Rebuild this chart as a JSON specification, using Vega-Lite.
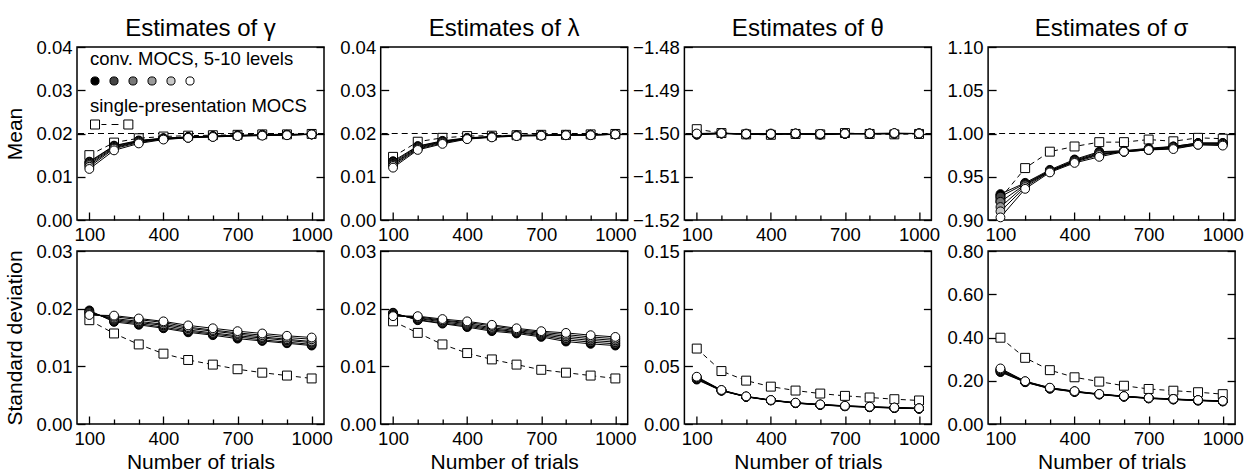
{
"$schema": "https://vega.github.io/schema/vega-lite/v6.json",
"padding": {"left": 4, "top": 16, "right": 5, "bottom": 2},
"datasets": {"d": [
{"p":"g","s":"m","x":100,"c5":0.0135,"c6":0.0133,"c7":0.0130,"c8":0.0127,"c9":0.0123,"c10":0.0118,"sp":0.0150},
{"p":"g","s":"m","x":200,"c5":0.0172,"c6":0.0171,"c7":0.0169,"c8":0.0167,"c9":0.0165,"c10":0.0161,"sp":0.0179},
{"p":"g","s":"m","x":300,"c5":0.0184,"c6":0.0183,"c7":0.0182,"c8":0.0181,"c9":0.0179,"c10":0.0177,"sp":0.0189},
{"p":"g","s":"m","x":400,"c5":0.0189,"c6":0.0189,"c7":0.0188,"c8":0.0188,"c9":0.0187,"c10":0.0186,"sp":0.0193},
{"p":"g","s":"m","x":500,"c5":0.0192,"c6":0.0192,"c7":0.0191,"c8":0.0191,"c9":0.0190,"c10":0.0190,"sp":0.0195},
{"p":"g","s":"m","x":600,"c5":0.0194,"c6":0.0194,"c7":0.0193,"c8":0.0193,"c9":0.0193,"c10":0.0192,"sp":0.0196},
{"p":"g","s":"m","x":700,"c5":0.0196,"c6":0.0195,"c7":0.0195,"c8":0.0195,"c9":0.0194,"c10":0.0194,"sp":0.0197},
{"p":"g","s":"m","x":800,"c5":0.0197,"c6":0.0197,"c7":0.0196,"c8":0.0196,"c9":0.0196,"c10":0.0195,"sp":0.0198},
{"p":"g","s":"m","x":900,"c5":0.0197,"c6":0.0197,"c7":0.0197,"c8":0.0197,"c9":0.0197,"c10":0.0196,"sp":0.0198},
{"p":"g","s":"m","x":1000,"c5":0.0198,"c6":0.0198,"c7":0.0198,"c8":0.0198,"c9":0.0198,"c10":0.0198,"sp":0.0199},
{"p":"l","s":"m","x":100,"c5":0.0136,"c6":0.0133,"c7":0.0130,"c8":0.0128,"c9":0.0125,"c10":0.0121,"sp":0.0146},
{"p":"l","s":"m","x":200,"c5":0.0171,"c6":0.0170,"c7":0.0168,"c8":0.0166,"c9":0.0164,"c10":0.0162,"sp":0.0181},
{"p":"l","s":"m","x":300,"c5":0.0183,"c6":0.0182,"c7":0.0181,"c8":0.0180,"c9":0.0178,"c10":0.0176,"sp":0.0190},
{"p":"l","s":"m","x":400,"c5":0.0190,"c6":0.0189,"c7":0.0189,"c8":0.0188,"c9":0.0188,"c10":0.0187,"sp":0.0194},
{"p":"l","s":"m","x":500,"c5":0.0193,"c6":0.0193,"c7":0.0192,"c8":0.0192,"c9":0.0192,"c10":0.0191,"sp":0.0195},
{"p":"l","s":"m","x":600,"c5":0.0196,"c6":0.0195,"c7":0.0195,"c8":0.0195,"c9":0.0195,"c10":0.0194,"sp":0.0196},
{"p":"l","s":"m","x":700,"c5":0.0196,"c6":0.0196,"c7":0.0196,"c8":0.0196,"c9":0.0195,"c10":0.0195,"sp":0.0197},
{"p":"l","s":"m","x":800,"c5":0.0197,"c6":0.0197,"c7":0.0197,"c8":0.0196,"c9":0.0196,"c10":0.0196,"sp":0.0197},
{"p":"l","s":"m","x":900,"c5":0.0197,"c6":0.0197,"c7":0.0197,"c8":0.0197,"c9":0.0197,"c10":0.0196,"sp":0.0198},
{"p":"l","s":"m","x":1000,"c5":0.0198,"c6":0.0198,"c7":0.0198,"c8":0.0198,"c9":0.0198,"c10":0.0198,"sp":0.0199},
{"p":"t","s":"m","x":100,"c5":-1.5003,"c6":-1.5002,"c7":-1.5001,"c8":-1.5002,"c9":-1.5001,"c10":-1.5000,"sp":-1.4990},
{"p":"t","s":"m","x":200,"c5":-1.5000,"c6":-1.5000,"c7":-1.4999,"c8":-1.5000,"c9":-1.5000,"c10":-1.4999,"sp":-1.4999},
{"p":"t","s":"m","x":300,"c5":-1.5002,"c6":-1.5001,"c7":-1.5002,"c8":-1.5001,"c9":-1.5000,"c10":-1.5001,"sp":-1.5002},
{"p":"t","s":"m","x":400,"c5":-1.5002,"c6":-1.5001,"c7":-1.5001,"c8":-1.5002,"c9":-1.5000,"c10":-1.5001,"sp":-1.5003},
{"p":"t","s":"m","x":500,"c5":-1.5001,"c6":-1.5001,"c7":-1.5000,"c8":-1.5001,"c9":-1.5000,"c10":-1.5000,"sp":-1.5001},
{"p":"t","s":"m","x":600,"c5":-1.5003,"c6":-1.5002,"c7":-1.5001,"c8":-1.5002,"c9":-1.5001,"c10":-1.5001,"sp":-1.5002},
{"p":"t","s":"m","x":700,"c5":-1.5001,"c6":-1.5000,"c7":-1.5000,"c8":-1.5001,"c9":-1.5000,"c10":-1.5000,"sp":-1.4999},
{"p":"t","s":"m","x":800,"c5":-1.5001,"c6":-1.5000,"c7":-1.5001,"c8":-1.5000,"c9":-1.5000,"c10":-1.5000,"sp":-1.5001},
{"p":"t","s":"m","x":900,"c5":-1.5000,"c6":-1.5000,"c7":-1.5001,"c8":-1.5000,"c9":-1.5000,"c10":-1.4999,"sp":-1.5002},
{"p":"t","s":"m","x":1000,"c5":-1.5000,"c6":-1.5000,"c7":-1.5000,"c8":-1.5000,"c9":-1.5000,"c10":-1.5000,"sp":-1.5001},
{"p":"s","s":"m","x":100,"c5":0.930,"c6":0.927,"c7":0.921,"c8":0.915,"c9":0.910,"c10":0.903,"sp":0.925},
{"p":"s","s":"m","x":200,"c5":0.943,"c6":0.942,"c7":0.941,"c8":0.940,"c9":0.938,"c10":0.936,"sp":0.960},
{"p":"s","s":"m","x":300,"c5":0.958,"c6":0.957,"c7":0.957,"c8":0.956,"c9":0.956,"c10":0.955,"sp":0.979},
{"p":"s","s":"m","x":400,"c5":0.970,"c6":0.969,"c7":0.968,"c8":0.968,"c9":0.967,"c10":0.966,"sp":0.985},
{"p":"s","s":"m","x":500,"c5":0.979,"c6":0.978,"c7":0.977,"c8":0.976,"c9":0.975,"c10":0.973,"sp":0.990},
{"p":"s","s":"m","x":600,"c5":0.980,"c6":0.980,"c7":0.979,"c8":0.979,"c9":0.979,"c10":0.979,"sp":0.990},
{"p":"s","s":"m","x":700,"c5":0.983,"c6":0.982,"c7":0.982,"c8":0.981,"c9":0.981,"c10":0.981,"sp":0.993},
{"p":"s","s":"m","x":800,"c5":0.985,"c6":0.985,"c7":0.984,"c8":0.984,"c9":0.983,"c10":0.982,"sp":0.991},
{"p":"s","s":"m","x":900,"c5":0.989,"c6":0.989,"c7":0.988,"c8":0.988,"c9":0.987,"c10":0.987,"sp":0.995},
{"p":"s","s":"m","x":1000,"c5":0.989,"c6":0.989,"c7":0.988,"c8":0.988,"c9":0.987,"c10":0.986,"sp":0.994},
{"p":"g","s":"sd","x":100,"c5":0.0197,"c6":0.0195,"c7":0.0194,"c8":0.0192,"c9":0.0190,"c10":0.0189,"sp":0.0180},
{"p":"g","s":"sd","x":200,"c5":0.0177,"c6":0.0179,"c7":0.0181,"c8":0.0183,"c9":0.0186,"c10":0.0188,"sp":0.0157},
{"p":"g","s":"sd","x":300,"c5":0.0172,"c6":0.0174,"c7":0.0176,"c8":0.0178,"c9":0.0181,"c10":0.0183,"sp":0.0138},
{"p":"g","s":"sd","x":400,"c5":0.0166,"c6":0.0168,"c7":0.0171,"c8":0.0173,"c9":0.0176,"c10":0.0178,"sp":0.0122},
{"p":"g","s":"sd","x":500,"c5":0.0159,"c6":0.0161,"c7":0.0163,"c8":0.0166,"c9":0.0168,"c10":0.0171,"sp":0.0111},
{"p":"g","s":"sd","x":600,"c5":0.0154,"c6":0.0156,"c7":0.0158,"c8":0.0161,"c9":0.0163,"c10":0.0166,"sp":0.0103},
{"p":"g","s":"sd","x":700,"c5":0.0148,"c6":0.0151,"c7":0.0153,"c8":0.0156,"c9":0.0158,"c10":0.0161,"sp":0.0095},
{"p":"g","s":"sd","x":800,"c5":0.0144,"c6":0.0146,"c7":0.0149,"c8":0.0151,"c9":0.0154,"c10":0.0157,"sp":0.0089},
{"p":"g","s":"sd","x":900,"c5":0.0140,"c6":0.0142,"c7":0.0145,"c8":0.0147,"c9":0.0150,"c10":0.0153,"sp":0.0084},
{"p":"g","s":"sd","x":1000,"c5":0.0136,"c6":0.0138,"c7":0.0141,"c8":0.0143,"c9":0.0147,"c10":0.0150,"sp":0.0079},
{"p":"l","s":"sd","x":100,"c5":0.0193,"c6":0.0192,"c7":0.0190,"c8":0.0189,"c9":0.0188,"c10":0.0187,"sp":0.0178},
{"p":"l","s":"sd","x":200,"c5":0.0180,"c6":0.0181,"c7":0.0183,"c8":0.0184,"c9":0.0186,"c10":0.0187,"sp":0.0158},
{"p":"l","s":"sd","x":300,"c5":0.0174,"c6":0.0175,"c7":0.0177,"c8":0.0179,"c9":0.0180,"c10":0.0182,"sp":0.0138},
{"p":"l","s":"sd","x":400,"c5":0.0168,"c6":0.0170,"c7":0.0172,"c8":0.0174,"c9":0.0176,"c10":0.0178,"sp":0.0123},
{"p":"l","s":"sd","x":500,"c5":0.0161,"c6":0.0163,"c7":0.0165,"c8":0.0167,"c9":0.0170,"c10":0.0172,"sp":0.0112},
{"p":"l","s":"sd","x":600,"c5":0.0157,"c6":0.0159,"c7":0.0160,"c8":0.0162,"c9":0.0164,"c10":0.0166,"sp":0.0103},
{"p":"l","s":"sd","x":700,"c5":0.0151,"c6":0.0153,"c7":0.0155,"c8":0.0157,"c9":0.0159,"c10":0.0161,"sp":0.0094},
{"p":"l","s":"sd","x":800,"c5":0.0143,"c6":0.0146,"c7":0.0149,"c8":0.0152,"c9":0.0155,"c10":0.0158,"sp":0.0089},
{"p":"l","s":"sd","x":900,"c5":0.0139,"c6":0.0142,"c7":0.0145,"c8":0.0148,"c9":0.0151,"c10":0.0154,"sp":0.0084},
{"p":"l","s":"sd","x":1000,"c5":0.0136,"c6":0.0139,"c7":0.0142,"c8":0.0145,"c9":0.0148,"c10":0.0151,"sp":0.0079},
{"p":"t","s":"sd","x":100,"c5":0.0385,"c6":0.0390,"c7":0.0395,"c8":0.0400,"c9":0.0405,"c10":0.0410,"sp":0.0654},
{"p":"t","s":"sd","x":200,"c5":0.0288,"c6":0.0290,"c7":0.0290,"c8":0.0292,"c9":0.0293,"c10":0.0295,"sp":0.0459},
{"p":"t","s":"sd","x":300,"c5":0.0235,"c6":0.0236,"c7":0.0237,"c8":0.0237,"c9":0.0238,"c10":0.0240,"sp":0.0376},
{"p":"t","s":"sd","x":400,"c5":0.0204,"c6":0.0205,"c7":0.0206,"c8":0.0206,"c9":0.0207,"c10":0.0208,"sp":0.0324},
{"p":"t","s":"sd","x":500,"c5":0.0180,"c6":0.0181,"c7":0.0182,"c8":0.0183,"c9":0.0184,"c10":0.0185,"sp":0.0290},
{"p":"t","s":"sd","x":600,"c5":0.0165,"c6":0.0166,"c7":0.0167,"c8":0.0168,"c9":0.0169,"c10":0.0170,"sp":0.0264},
{"p":"t","s":"sd","x":700,"c5":0.0153,"c6":0.0154,"c7":0.0155,"c8":0.0156,"c9":0.0157,"c10":0.0158,"sp":0.0244},
{"p":"t","s":"sd","x":800,"c5":0.0145,"c6":0.0146,"c7":0.0147,"c8":0.0148,"c9":0.0149,"c10":0.0150,"sp":0.0230},
{"p":"t","s":"sd","x":900,"c5":0.0138,"c6":0.0139,"c7":0.0140,"c8":0.0141,"c9":0.0142,"c10":0.0143,"sp":0.0215},
{"p":"t","s":"sd","x":1000,"c5":0.0132,"c6":0.0133,"c7":0.0134,"c8":0.0135,"c9":0.0136,"c10":0.0137,"sp":0.0204},
{"p":"s","s":"sd","x":100,"c5":0.240,"c6":0.243,"c7":0.247,"c8":0.250,"c9":0.253,"c10":0.257,"sp":0.399},
{"p":"s","s":"sd","x":200,"c5":0.193,"c6":0.194,"c7":0.195,"c8":0.196,"c9":0.197,"c10":0.198,"sp":0.306},
{"p":"s","s":"sd","x":300,"c5":0.163,"c6":0.164,"c7":0.165,"c8":0.166,"c9":0.167,"c10":0.168,"sp":0.249},
{"p":"s","s":"sd","x":400,"c5":0.148,"c6":0.149,"c7":0.150,"c8":0.150,"c9":0.151,"c10":0.152,"sp":0.216},
{"p":"s","s":"sd","x":500,"c5":0.136,"c6":0.137,"c7":0.137,"c8":0.138,"c9":0.138,"c10":0.139,"sp":0.196},
{"p":"s","s":"sd","x":600,"c5":0.126,"c6":0.127,"c7":0.127,"c8":0.128,"c9":0.128,"c10":0.129,"sp":0.177},
{"p":"s","s":"sd","x":700,"c5":0.118,"c6":0.119,"c7":0.119,"c8":0.120,"c9":0.120,"c10":0.121,"sp":0.162},
{"p":"s","s":"sd","x":800,"c5":0.113,"c6":0.114,"c7":0.114,"c8":0.115,"c9":0.115,"c10":0.116,"sp":0.154},
{"p":"s","s":"sd","x":900,"c5":0.108,"c6":0.109,"c7":0.109,"c8":0.110,"c9":0.110,"c10":0.111,"sp":0.147},
{"p":"s","s":"sd","x":1000,"c5":0.104,"c6":0.105,"c7":0.105,"c8":0.106,"c9":0.106,"c10":0.107,"sp":0.138}
]},
"data": {"name": "d"},
"columns": 4,
"spacing": {"row": 31, "column": 56.7},
"bounds": "flush",
"concat": [
{"width": 247, "height": 173, "title": "Estimates of γ", "resolve": {"axis": {"y": "independent"}, "scale": {"fill": "independent"}}, "layer": [
 {"layer": [
  {"transform": [{"filter": "datum.p=='g' && datum.s=='m' && datum.x==100"}], "mark": {"type": "rule", "strokeDash": [6,4], "strokeWidth": 1, "color": "black"}, "encoding": {"y": {"datum": 0.02, "type": "quantitative", "scale": {"domain": [0,0.04], "nice": false, "zero": false}, "axis": {"orient": "left", "values": [0,0.01,0.02,0.03,0.04], "format": ".2f", "title": "Mean"}}}},
  {"transform": [{"filter": "datum.p=='g' && datum.s=='m'"}], "mark": {"type": "line", "strokeDash": [5,4], "strokeWidth": 1, "color": "black"}, "encoding": {"x": {"field": "x", "type": "quantitative", "scale": {"domain": [50,1050], "nice": false, "zero": false}, "axis": {"orient": "bottom", "values": [100,200,300,400,500,600,700,800,900,1000], "format": "d", "labelExpr": "datum.value % 300 == 100 ? datum.label : ''", "tickSize": {"condition": {"test": "datum.value % 300 == 100", "value": -8}, "value": -5}, "title": null}}, "y": {"field": "sp", "type": "quantitative", "scale": {"domain": [0,0.04], "nice": false, "zero": false}, "axis": {"orient": "left", "values": [0,0.01,0.02,0.03,0.04], "format": ".2f", "title": "Mean"}}}},
  {"transform": [{"filter": "datum.p=='g' && datum.s=='m'"}], "mark": {"type": "point", "shape": "square", "filled": true, "fill": "white", "stroke": "black", "strokeWidth": 1, "size": 80, "opacity": 1}, "encoding": {"x": {"field": "x", "type": "quantitative", "scale": {"domain": [50,1050], "nice": false, "zero": false}, "axis": {"orient": "bottom", "values": [100,200,300,400,500,600,700,800,900,1000], "format": "d", "labelExpr": "datum.value % 300 == 100 ? datum.label : ''", "tickSize": {"condition": {"test": "datum.value % 300 == 100", "value": -8}, "value": -5}, "title": null}}, "y": {"field": "sp", "type": "quantitative", "scale": {"domain": [0,0.04], "nice": false, "zero": false}, "axis": {"orient": "left", "values": [0,0.01,0.02,0.03,0.04], "format": ".2f", "title": "Mean"}}}},
  {"transform": [{"filter": "datum.p=='g' && datum.s=='m' && datum.x < 0"}], "mark": {"type": "point", "shape": "circle", "filled": true, "stroke": "black", "strokeWidth": 1, "size": 80, "opacity": 1}, "encoding": {"x": {"field": "x", "type": "quantitative", "scale": {"domain": [50,1050], "nice": false, "zero": false}, "axis": {"orient": "bottom", "values": [100,200,300,400,500,600,700,800,900,1000], "format": "d", "labelExpr": "datum.value % 300 == 100 ? datum.label : ''", "tickSize": {"condition": {"test": "datum.value % 300 == 100", "value": -8}, "value": -5}, "title": null}}, "y": {"field": "sp", "type": "quantitative", "scale": {"domain": [0,0.04], "nice": false, "zero": false}, "axis": {"orient": "left", "values": [0,0.01,0.02,0.03,0.04], "format": ".2f", "title": "Mean"}},
    "fill": {"field": "s", "type": "nominal", "scale": {"domain": ["m"], "range": ["#ffffff"]}, "legend": {"title": "single-presentation MOCS", "orient": "none", "legendX": 13, "legendY": 50, "labelExpr": "''", "labelFontSize": 6, "labelOffset": 0, "symbolType": "M-1,-0.21L-0.58,-0.21L-0.58,0.21L-1,0.21ZM-0.49,0L-0.26,0M-0.02,0L0.3,0M0.55,-0.21L0.97,-0.21L0.97,0.21L0.55,0.21Z", "symbolSize": 1849, "symbolStrokeColor": "black", "symbolStrokeWidth": 1, "titlePadding": -13}}}},
  {"transform": [{"filter": "datum.p=='g' && datum.s=='m'"}, {"fold": ["c5","c6","c7","c8","c9","c10"], "as": ["k","v"]}], "mark": {"type": "line", "strokeWidth": 1, "color": "black"}, "encoding": {"x": {"field": "x", "type": "quantitative", "scale": {"domain": [50,1050], "nice": false, "zero": false}, "axis": {"orient": "bottom", "values": [100,200,300,400,500,600,700,800,900,1000], "format": "d", "labelExpr": "datum.value % 300 == 100 ? datum.label : ''", "tickSize": {"condition": {"test": "datum.value % 300 == 100", "value": -8}, "value": -5}, "title": null}}, "y": {"field": "v", "type": "quantitative", "scale": {"domain": [0,0.04], "nice": false, "zero": false}, "axis": {"orient": "left", "values": [0,0.01,0.02,0.03,0.04], "format": ".2f", "title": "Mean"}}, "detail": {"field": "k"}}}
 ]},
 {"transform": [{"filter": "datum.p=='g' && datum.s=='m'"}, {"fold": ["c5","c6","c7","c8","c9","c10"], "as": ["k","v"]}], "mark": {"type": "point", "shape": "circle", "filled": true, "stroke": "black", "strokeWidth": 1, "size": 78, "opacity": 1}, "encoding": {"x": {"field": "x", "type": "quantitative", "scale": {"domain": [50,1050], "nice": false, "zero": false}, "axis": {"orient": "bottom", "values": [100,200,300,400,500,600,700,800,900,1000], "format": "d", "labelExpr": "datum.value % 300 == 100 ? datum.label : ''", "tickSize": {"condition": {"test": "datum.value % 300 == 100", "value": -8}, "value": -5}, "title": null}}, "y": {"field": "v", "type": "quantitative", "scale": {"domain": [0,0.04], "nice": false, "zero": false}, "axis": {"orient": "right", "labels": false, "title": null, "values": [0,0.01,0.02,0.03,0.04]}},
   "fill": {"field": "k", "type": "nominal", "scale": {"domain": ["c5","c6","c7","c8","c9","c10"], "range": ["#000000","#444444","#777777","#9a9a9a","#c8c8c8","#ffffff"]}, "legend": {"title": "conv. MOCS, 5-10 levels", "orient": "none", "legendX": 13, "legendY": 3, "direction": "horizontal", "columns": 6, "labelExpr": "''", "labelFontSize": 6, "labelOffset": 0, "columnPadding": 5, "symbolType": "circle", "symbolSize": 66, "symbolStrokeColor": "black", "symbolStrokeWidth": 1, "titlePadding": 7}}}}
]},
{"width": 247, "height": 173, "title": "Estimates of λ", "resolve": {"axis": {"y": "independent"}}, "layer": [
 {"layer": [
  {"transform": [{"filter": "datum.p=='l' && datum.s=='m' && datum.x==100"}], "mark": {"type": "rule", "strokeDash": [6,4], "strokeWidth": 1, "color": "black"}, "encoding": {"y": {"datum": 0.02, "type": "quantitative", "scale": {"domain": [0,0.04], "nice": false, "zero": false}, "axis": {"orient": "left", "values": [0,0.01,0.02,0.03,0.04], "format": ".2f", "title": null}}}},
  {"transform": [{"filter": "datum.p=='l' && datum.s=='m'"}], "mark": {"type": "line", "strokeDash": [5,4], "strokeWidth": 1, "color": "black"}, "encoding": {"x": {"field": "x", "type": "quantitative", "scale": {"domain": [50,1050], "nice": false, "zero": false}, "axis": {"orient": "bottom", "values": [100,200,300,400,500,600,700,800,900,1000], "format": "d", "labelExpr": "datum.value % 300 == 100 ? datum.label : ''", "tickSize": {"condition": {"test": "datum.value % 300 == 100", "value": -8}, "value": -5}, "title": null}}, "y": {"field": "sp", "type": "quantitative", "scale": {"domain": [0,0.04], "nice": false, "zero": false}, "axis": {"orient": "left", "values": [0,0.01,0.02,0.03,0.04], "format": ".2f", "title": null}}}},
  {"transform": [{"filter": "datum.p=='l' && datum.s=='m'"}], "mark": {"type": "point", "shape": "square", "filled": true, "fill": "white", "stroke": "black", "strokeWidth": 1, "size": 80, "opacity": 1}, "encoding": {"x": {"field": "x", "type": "quantitative", "scale": {"domain": [50,1050], "nice": false, "zero": false}, "axis": {"orient": "bottom", "values": [100,200,300,400,500,600,700,800,900,1000], "format": "d", "labelExpr": "datum.value % 300 == 100 ? datum.label : ''", "tickSize": {"condition": {"test": "datum.value % 300 == 100", "value": -8}, "value": -5}, "title": null}}, "y": {"field": "sp", "type": "quantitative", "scale": {"domain": [0,0.04], "nice": false, "zero": false}, "axis": {"orient": "left", "values": [0,0.01,0.02,0.03,0.04], "format": ".2f", "title": null}}}},
  {"transform": [{"filter": "datum.p=='l' && datum.s=='m'"}, {"fold": ["c5","c6","c7","c8","c9","c10"], "as": ["k","v"]}], "mark": {"type": "line", "strokeWidth": 1, "color": "black"}, "encoding": {"x": {"field": "x", "type": "quantitative", "scale": {"domain": [50,1050], "nice": false, "zero": false}, "axis": {"orient": "bottom", "values": [100,200,300,400,500,600,700,800,900,1000], "format": "d", "labelExpr": "datum.value % 300 == 100 ? datum.label : ''", "tickSize": {"condition": {"test": "datum.value % 300 == 100", "value": -8}, "value": -5}, "title": null}}, "y": {"field": "v", "type": "quantitative", "scale": {"domain": [0,0.04], "nice": false, "zero": false}, "axis": {"orient": "left", "values": [0,0.01,0.02,0.03,0.04], "format": ".2f", "title": null}}, "detail": {"field": "k"}}}
 ]},
 {"transform": [{"filter": "datum.p=='l' && datum.s=='m'"}, {"fold": ["c5","c6","c7","c8","c9","c10"], "as": ["k","v"]}], "mark": {"type": "point", "shape": "circle", "filled": true, "stroke": "black", "strokeWidth": 1, "size": 78, "opacity": 1}, "encoding": {"x": {"field": "x", "type": "quantitative", "scale": {"domain": [50,1050], "nice": false, "zero": false}, "axis": {"orient": "bottom", "values": [100,200,300,400,500,600,700,800,900,1000], "format": "d", "labelExpr": "datum.value % 300 == 100 ? datum.label : ''", "tickSize": {"condition": {"test": "datum.value % 300 == 100", "value": -8}, "value": -5}, "title": null}}, "y": {"field": "v", "type": "quantitative", "scale": {"domain": [0,0.04], "nice": false, "zero": false}, "axis": {"orient": "right", "labels": false, "title": null, "values": [0,0.01,0.02,0.03,0.04]}},
   "fill": {"field": "k", "type": "nominal", "scale": {"domain": ["c5","c6","c7","c8","c9","c10"], "range": ["#000000","#444444","#777777","#9a9a9a","#c8c8c8","#ffffff"]}, "legend": null}}}
]},
{"width": 247, "height": 173, "title": "Estimates of θ", "resolve": {"axis": {"y": "independent"}}, "layer": [
 {"layer": [
  {"transform": [{"filter": "datum.p=='t' && datum.s=='m' && datum.x==100"}], "mark": {"type": "rule", "strokeDash": [6,4], "strokeWidth": 1, "color": "black"}, "encoding": {"y": {"datum": -1.5, "type": "quantitative", "scale": {"domain": [-1.52,-1.48], "nice": false, "zero": false}, "axis": {"orient": "left", "values": [-1.52,-1.51,-1.5,-1.49,-1.48], "format": ".2f", "title": null}}}},
  {"transform": [{"filter": "datum.p=='t' && datum.s=='m'"}], "mark": {"type": "line", "strokeDash": [5,4], "strokeWidth": 1, "color": "black"}, "encoding": {"x": {"field": "x", "type": "quantitative", "scale": {"domain": [50,1050], "nice": false, "zero": false}, "axis": {"orient": "bottom", "values": [100,200,300,400,500,600,700,800,900,1000], "format": "d", "labelExpr": "datum.value % 300 == 100 ? datum.label : ''", "tickSize": {"condition": {"test": "datum.value % 300 == 100", "value": -8}, "value": -5}, "title": null}}, "y": {"field": "sp", "type": "quantitative", "scale": {"domain": [-1.52,-1.48], "nice": false, "zero": false}, "axis": {"orient": "left", "values": [-1.52,-1.51,-1.5,-1.49,-1.48], "format": ".2f", "title": null}}}},
  {"transform": [{"filter": "datum.p=='t' && datum.s=='m'"}], "mark": {"type": "point", "shape": "square", "filled": true, "fill": "white", "stroke": "black", "strokeWidth": 1, "size": 80, "opacity": 1}, "encoding": {"x": {"field": "x", "type": "quantitative", "scale": {"domain": [50,1050], "nice": false, "zero": false}, "axis": {"orient": "bottom", "values": [100,200,300,400,500,600,700,800,900,1000], "format": "d", "labelExpr": "datum.value % 300 == 100 ? datum.label : ''", "tickSize": {"condition": {"test": "datum.value % 300 == 100", "value": -8}, "value": -5}, "title": null}}, "y": {"field": "sp", "type": "quantitative", "scale": {"domain": [-1.52,-1.48], "nice": false, "zero": false}, "axis": {"orient": "left", "values": [-1.52,-1.51,-1.5,-1.49,-1.48], "format": ".2f", "title": null}}}},
  {"transform": [{"filter": "datum.p=='t' && datum.s=='m'"}, {"fold": ["c5","c6","c7","c8","c9","c10"], "as": ["k","v"]}], "mark": {"type": "line", "strokeWidth": 1, "color": "black"}, "encoding": {"x": {"field": "x", "type": "quantitative", "scale": {"domain": [50,1050], "nice": false, "zero": false}, "axis": {"orient": "bottom", "values": [100,200,300,400,500,600,700,800,900,1000], "format": "d", "labelExpr": "datum.value % 300 == 100 ? datum.label : ''", "tickSize": {"condition": {"test": "datum.value % 300 == 100", "value": -8}, "value": -5}, "title": null}}, "y": {"field": "v", "type": "quantitative", "scale": {"domain": [-1.52,-1.48], "nice": false, "zero": false}, "axis": {"orient": "left", "values": [-1.52,-1.51,-1.5,-1.49,-1.48], "format": ".2f", "title": null}}, "detail": {"field": "k"}}}
 ]},
 {"transform": [{"filter": "datum.p=='t' && datum.s=='m'"}, {"fold": ["c5","c6","c7","c8","c9","c10"], "as": ["k","v"]}], "mark": {"type": "point", "shape": "circle", "filled": true, "stroke": "black", "strokeWidth": 1, "size": 78, "opacity": 1}, "encoding": {"x": {"field": "x", "type": "quantitative", "scale": {"domain": [50,1050], "nice": false, "zero": false}, "axis": {"orient": "bottom", "values": [100,200,300,400,500,600,700,800,900,1000], "format": "d", "labelExpr": "datum.value % 300 == 100 ? datum.label : ''", "tickSize": {"condition": {"test": "datum.value % 300 == 100", "value": -8}, "value": -5}, "title": null}}, "y": {"field": "v", "type": "quantitative", "scale": {"domain": [-1.52,-1.48], "nice": false, "zero": false}, "axis": {"orient": "right", "labels": false, "title": null, "values": [-1.52,-1.51,-1.5,-1.49,-1.48]}},
   "fill": {"field": "k", "type": "nominal", "scale": {"domain": ["c5","c6","c7","c8","c9","c10"], "range": ["#000000","#444444","#777777","#9a9a9a","#c8c8c8","#ffffff"]}, "legend": null}}}
]},
{"width": 247, "height": 173, "title": "Estimates of σ", "resolve": {"axis": {"y": "independent"}}, "layer": [
 {"layer": [
  {"transform": [{"filter": "datum.p=='s' && datum.s=='m' && datum.x==100"}], "mark": {"type": "rule", "strokeDash": [6,4], "strokeWidth": 1, "color": "black"}, "encoding": {"y": {"datum": 1.0, "type": "quantitative", "scale": {"domain": [0.9,1.1], "nice": false, "zero": false}, "axis": {"orient": "left", "values": [0.9,0.95,1.0,1.05,1.1], "format": ".2f", "title": null}}}},
  {"transform": [{"filter": "datum.p=='s' && datum.s=='m'"}], "mark": {"type": "line", "strokeDash": [5,4], "strokeWidth": 1, "color": "black"}, "encoding": {"x": {"field": "x", "type": "quantitative", "scale": {"domain": [50,1050], "nice": false, "zero": false}, "axis": {"orient": "bottom", "values": [100,200,300,400,500,600,700,800,900,1000], "format": "d", "labelExpr": "datum.value % 300 == 100 ? datum.label : ''", "tickSize": {"condition": {"test": "datum.value % 300 == 100", "value": -8}, "value": -5}, "title": null}}, "y": {"field": "sp", "type": "quantitative", "scale": {"domain": [0.9,1.1], "nice": false, "zero": false}, "axis": {"orient": "left", "values": [0.9,0.95,1.0,1.05,1.1], "format": ".2f", "title": null}}}},
  {"transform": [{"filter": "datum.p=='s' && datum.s=='m'"}], "mark": {"type": "point", "shape": "square", "filled": true, "fill": "white", "stroke": "black", "strokeWidth": 1, "size": 80, "opacity": 1}, "encoding": {"x": {"field": "x", "type": "quantitative", "scale": {"domain": [50,1050], "nice": false, "zero": false}, "axis": {"orient": "bottom", "values": [100,200,300,400,500,600,700,800,900,1000], "format": "d", "labelExpr": "datum.value % 300 == 100 ? datum.label : ''", "tickSize": {"condition": {"test": "datum.value % 300 == 100", "value": -8}, "value": -5}, "title": null}}, "y": {"field": "sp", "type": "quantitative", "scale": {"domain": [0.9,1.1], "nice": false, "zero": false}, "axis": {"orient": "left", "values": [0.9,0.95,1.0,1.05,1.1], "format": ".2f", "title": null}}}},
  {"transform": [{"filter": "datum.p=='s' && datum.s=='m'"}, {"fold": ["c5","c6","c7","c8","c9","c10"], "as": ["k","v"]}], "mark": {"type": "line", "strokeWidth": 1, "color": "black"}, "encoding": {"x": {"field": "x", "type": "quantitative", "scale": {"domain": [50,1050], "nice": false, "zero": false}, "axis": {"orient": "bottom", "values": [100,200,300,400,500,600,700,800,900,1000], "format": "d", "labelExpr": "datum.value % 300 == 100 ? datum.label : ''", "tickSize": {"condition": {"test": "datum.value % 300 == 100", "value": -8}, "value": -5}, "title": null}}, "y": {"field": "v", "type": "quantitative", "scale": {"domain": [0.9,1.1], "nice": false, "zero": false}, "axis": {"orient": "left", "values": [0.9,0.95,1.0,1.05,1.1], "format": ".2f", "title": null}}, "detail": {"field": "k"}}}
 ]},
 {"transform": [{"filter": "datum.p=='s' && datum.s=='m'"}, {"fold": ["c5","c6","c7","c8","c9","c10"], "as": ["k","v"]}], "mark": {"type": "point", "shape": "circle", "filled": true, "stroke": "black", "strokeWidth": 1, "size": 78, "opacity": 1}, "encoding": {"x": {"field": "x", "type": "quantitative", "scale": {"domain": [50,1050], "nice": false, "zero": false}, "axis": {"orient": "bottom", "values": [100,200,300,400,500,600,700,800,900,1000], "format": "d", "labelExpr": "datum.value % 300 == 100 ? datum.label : ''", "tickSize": {"condition": {"test": "datum.value % 300 == 100", "value": -8}, "value": -5}, "title": null}}, "y": {"field": "v", "type": "quantitative", "scale": {"domain": [0.9,1.1], "nice": false, "zero": false}, "axis": {"orient": "right", "labels": false, "title": null, "values": [0.9,0.95,1.0,1.05,1.1]}},
   "fill": {"field": "k", "type": "nominal", "scale": {"domain": ["c5","c6","c7","c8","c9","c10"], "range": ["#000000","#444444","#777777","#9a9a9a","#c8c8c8","#ffffff"]}, "legend": null}}}
]},
{"width": 247, "height": 173, "resolve": {"axis": {"y": "independent"}}, "layer": [
 {"layer": [
  {"transform": [{"filter": "datum.p=='g' && datum.s=='sd'"}], "mark": {"type": "line", "strokeDash": [5,4], "strokeWidth": 1, "color": "black"}, "encoding": {"x": {"field": "x", "type": "quantitative", "scale": {"domain": [50,1050], "nice": false, "zero": false}, "axis": {"orient": "bottom", "values": [100,200,300,400,500,600,700,800,900,1000], "format": "d", "labelExpr": "datum.value % 300 == 100 ? datum.label : ''", "tickSize": {"condition": {"test": "datum.value % 300 == 100", "value": -8}, "value": -5}, "title": "Number of trials"}}, "y": {"field": "sp", "type": "quantitative", "scale": {"domain": [0,0.03], "nice": false, "zero": false}, "axis": {"orient": "left", "values": [0,0.01,0.02,0.03], "format": ".2f", "title": "Standard deviation"}}}},
  {"transform": [{"filter": "datum.p=='g' && datum.s=='sd'"}], "mark": {"type": "point", "shape": "square", "filled": true, "fill": "white", "stroke": "black", "strokeWidth": 1, "size": 80, "opacity": 1}, "encoding": {"x": {"field": "x", "type": "quantitative", "scale": {"domain": [50,1050], "nice": false, "zero": false}, "axis": {"orient": "bottom", "values": [100,200,300,400,500,600,700,800,900,1000], "format": "d", "labelExpr": "datum.value % 300 == 100 ? datum.label : ''", "tickSize": {"condition": {"test": "datum.value % 300 == 100", "value": -8}, "value": -5}, "title": "Number of trials"}}, "y": {"field": "sp", "type": "quantitative", "scale": {"domain": [0,0.03], "nice": false, "zero": false}, "axis": {"orient": "left", "values": [0,0.01,0.02,0.03], "format": ".2f", "title": "Standard deviation"}}}},
  {"transform": [{"filter": "datum.p=='g' && datum.s=='sd'"}, {"fold": ["c5","c6","c7","c8","c9","c10"], "as": ["k","v"]}], "mark": {"type": "line", "strokeWidth": 1, "color": "black"}, "encoding": {"x": {"field": "x", "type": "quantitative", "scale": {"domain": [50,1050], "nice": false, "zero": false}, "axis": {"orient": "bottom", "values": [100,200,300,400,500,600,700,800,900,1000], "format": "d", "labelExpr": "datum.value % 300 == 100 ? datum.label : ''", "tickSize": {"condition": {"test": "datum.value % 300 == 100", "value": -8}, "value": -5}, "title": "Number of trials"}}, "y": {"field": "v", "type": "quantitative", "scale": {"domain": [0,0.03], "nice": false, "zero": false}, "axis": {"orient": "left", "values": [0,0.01,0.02,0.03], "format": ".2f", "title": "Standard deviation"}}, "detail": {"field": "k"}}}
 ]},
 {"transform": [{"filter": "datum.p=='g' && datum.s=='sd'"}, {"fold": ["c5","c6","c7","c8","c9","c10"], "as": ["k","v"]}], "mark": {"type": "point", "shape": "circle", "filled": true, "stroke": "black", "strokeWidth": 1, "size": 78, "opacity": 1}, "encoding": {"x": {"field": "x", "type": "quantitative", "scale": {"domain": [50,1050], "nice": false, "zero": false}, "axis": {"orient": "bottom", "values": [100,200,300,400,500,600,700,800,900,1000], "format": "d", "labelExpr": "datum.value % 300 == 100 ? datum.label : ''", "tickSize": {"condition": {"test": "datum.value % 300 == 100", "value": -8}, "value": -5}, "title": "Number of trials"}}, "y": {"field": "v", "type": "quantitative", "scale": {"domain": [0,0.03], "nice": false, "zero": false}, "axis": {"orient": "right", "labels": false, "title": null, "values": [0,0.01,0.02,0.03]}},
   "fill": {"field": "k", "type": "nominal", "scale": {"domain": ["c5","c6","c7","c8","c9","c10"], "range": ["#000000","#444444","#777777","#9a9a9a","#c8c8c8","#ffffff"]}, "legend": null}}}
]},
{"width": 247, "height": 173, "resolve": {"axis": {"y": "independent"}}, "layer": [
 {"layer": [
  {"transform": [{"filter": "datum.p=='l' && datum.s=='sd'"}], "mark": {"type": "line", "strokeDash": [5,4], "strokeWidth": 1, "color": "black"}, "encoding": {"x": {"field": "x", "type": "quantitative", "scale": {"domain": [50,1050], "nice": false, "zero": false}, "axis": {"orient": "bottom", "values": [100,200,300,400,500,600,700,800,900,1000], "format": "d", "labelExpr": "datum.value % 300 == 100 ? datum.label : ''", "tickSize": {"condition": {"test": "datum.value % 300 == 100", "value": -8}, "value": -5}, "title": "Number of trials"}}, "y": {"field": "sp", "type": "quantitative", "scale": {"domain": [0,0.03], "nice": false, "zero": false}, "axis": {"orient": "left", "values": [0,0.01,0.02,0.03], "format": ".2f", "title": null}}}},
  {"transform": [{"filter": "datum.p=='l' && datum.s=='sd'"}], "mark": {"type": "point", "shape": "square", "filled": true, "fill": "white", "stroke": "black", "strokeWidth": 1, "size": 80, "opacity": 1}, "encoding": {"x": {"field": "x", "type": "quantitative", "scale": {"domain": [50,1050], "nice": false, "zero": false}, "axis": {"orient": "bottom", "values": [100,200,300,400,500,600,700,800,900,1000], "format": "d", "labelExpr": "datum.value % 300 == 100 ? datum.label : ''", "tickSize": {"condition": {"test": "datum.value % 300 == 100", "value": -8}, "value": -5}, "title": "Number of trials"}}, "y": {"field": "sp", "type": "quantitative", "scale": {"domain": [0,0.03], "nice": false, "zero": false}, "axis": {"orient": "left", "values": [0,0.01,0.02,0.03], "format": ".2f", "title": null}}}},
  {"transform": [{"filter": "datum.p=='l' && datum.s=='sd'"}, {"fold": ["c5","c6","c7","c8","c9","c10"], "as": ["k","v"]}], "mark": {"type": "line", "strokeWidth": 1, "color": "black"}, "encoding": {"x": {"field": "x", "type": "quantitative", "scale": {"domain": [50,1050], "nice": false, "zero": false}, "axis": {"orient": "bottom", "values": [100,200,300,400,500,600,700,800,900,1000], "format": "d", "labelExpr": "datum.value % 300 == 100 ? datum.label : ''", "tickSize": {"condition": {"test": "datum.value % 300 == 100", "value": -8}, "value": -5}, "title": "Number of trials"}}, "y": {"field": "v", "type": "quantitative", "scale": {"domain": [0,0.03], "nice": false, "zero": false}, "axis": {"orient": "left", "values": [0,0.01,0.02,0.03], "format": ".2f", "title": null}}, "detail": {"field": "k"}}}
 ]},
 {"transform": [{"filter": "datum.p=='l' && datum.s=='sd'"}, {"fold": ["c5","c6","c7","c8","c9","c10"], "as": ["k","v"]}], "mark": {"type": "point", "shape": "circle", "filled": true, "stroke": "black", "strokeWidth": 1, "size": 78, "opacity": 1}, "encoding": {"x": {"field": "x", "type": "quantitative", "scale": {"domain": [50,1050], "nice": false, "zero": false}, "axis": {"orient": "bottom", "values": [100,200,300,400,500,600,700,800,900,1000], "format": "d", "labelExpr": "datum.value % 300 == 100 ? datum.label : ''", "tickSize": {"condition": {"test": "datum.value % 300 == 100", "value": -8}, "value": -5}, "title": "Number of trials"}}, "y": {"field": "v", "type": "quantitative", "scale": {"domain": [0,0.03], "nice": false, "zero": false}, "axis": {"orient": "right", "labels": false, "title": null, "values": [0,0.01,0.02,0.03]}},
   "fill": {"field": "k", "type": "nominal", "scale": {"domain": ["c5","c6","c7","c8","c9","c10"], "range": ["#000000","#444444","#777777","#9a9a9a","#c8c8c8","#ffffff"]}, "legend": null}}}
]},
{"width": 247, "height": 173, "resolve": {"axis": {"y": "independent"}}, "layer": [
 {"layer": [
  {"transform": [{"filter": "datum.p=='t' && datum.s=='sd'"}], "mark": {"type": "line", "strokeDash": [5,4], "strokeWidth": 1, "color": "black"}, "encoding": {"x": {"field": "x", "type": "quantitative", "scale": {"domain": [50,1050], "nice": false, "zero": false}, "axis": {"orient": "bottom", "values": [100,200,300,400,500,600,700,800,900,1000], "format": "d", "labelExpr": "datum.value % 300 == 100 ? datum.label : ''", "tickSize": {"condition": {"test": "datum.value % 300 == 100", "value": -8}, "value": -5}, "title": "Number of trials"}}, "y": {"field": "sp", "type": "quantitative", "scale": {"domain": [0,0.15], "nice": false, "zero": false}, "axis": {"orient": "left", "values": [0,0.05,0.1,0.15], "format": ".2f", "title": null}}}},
  {"transform": [{"filter": "datum.p=='t' && datum.s=='sd'"}], "mark": {"type": "point", "shape": "square", "filled": true, "fill": "white", "stroke": "black", "strokeWidth": 1, "size": 80, "opacity": 1}, "encoding": {"x": {"field": "x", "type": "quantitative", "scale": {"domain": [50,1050], "nice": false, "zero": false}, "axis": {"orient": "bottom", "values": [100,200,300,400,500,600,700,800,900,1000], "format": "d", "labelExpr": "datum.value % 300 == 100 ? datum.label : ''", "tickSize": {"condition": {"test": "datum.value % 300 == 100", "value": -8}, "value": -5}, "title": "Number of trials"}}, "y": {"field": "sp", "type": "quantitative", "scale": {"domain": [0,0.15], "nice": false, "zero": false}, "axis": {"orient": "left", "values": [0,0.05,0.1,0.15], "format": ".2f", "title": null}}}},
  {"transform": [{"filter": "datum.p=='t' && datum.s=='sd'"}, {"fold": ["c5","c6","c7","c8","c9","c10"], "as": ["k","v"]}], "mark": {"type": "line", "strokeWidth": 1, "color": "black"}, "encoding": {"x": {"field": "x", "type": "quantitative", "scale": {"domain": [50,1050], "nice": false, "zero": false}, "axis": {"orient": "bottom", "values": [100,200,300,400,500,600,700,800,900,1000], "format": "d", "labelExpr": "datum.value % 300 == 100 ? datum.label : ''", "tickSize": {"condition": {"test": "datum.value % 300 == 100", "value": -8}, "value": -5}, "title": "Number of trials"}}, "y": {"field": "v", "type": "quantitative", "scale": {"domain": [0,0.15], "nice": false, "zero": false}, "axis": {"orient": "left", "values": [0,0.05,0.1,0.15], "format": ".2f", "title": null}}, "detail": {"field": "k"}}}
 ]},
 {"transform": [{"filter": "datum.p=='t' && datum.s=='sd'"}, {"fold": ["c5","c6","c7","c8","c9","c10"], "as": ["k","v"]}], "mark": {"type": "point", "shape": "circle", "filled": true, "stroke": "black", "strokeWidth": 1, "size": 78, "opacity": 1}, "encoding": {"x": {"field": "x", "type": "quantitative", "scale": {"domain": [50,1050], "nice": false, "zero": false}, "axis": {"orient": "bottom", "values": [100,200,300,400,500,600,700,800,900,1000], "format": "d", "labelExpr": "datum.value % 300 == 100 ? datum.label : ''", "tickSize": {"condition": {"test": "datum.value % 300 == 100", "value": -8}, "value": -5}, "title": "Number of trials"}}, "y": {"field": "v", "type": "quantitative", "scale": {"domain": [0,0.15], "nice": false, "zero": false}, "axis": {"orient": "right", "labels": false, "title": null, "values": [0,0.05,0.1,0.15]}},
   "fill": {"field": "k", "type": "nominal", "scale": {"domain": ["c5","c6","c7","c8","c9","c10"], "range": ["#000000","#444444","#777777","#9a9a9a","#c8c8c8","#ffffff"]}, "legend": null}}}
]},
{"width": 247, "height": 173, "resolve": {"axis": {"y": "independent"}}, "layer": [
 {"layer": [
  {"transform": [{"filter": "datum.p=='s' && datum.s=='sd'"}], "mark": {"type": "line", "strokeDash": [5,4], "strokeWidth": 1, "color": "black"}, "encoding": {"x": {"field": "x", "type": "quantitative", "scale": {"domain": [50,1050], "nice": false, "zero": false}, "axis": {"orient": "bottom", "values": [100,200,300,400,500,600,700,800,900,1000], "format": "d", "labelExpr": "datum.value % 300 == 100 ? datum.label : ''", "tickSize": {"condition": {"test": "datum.value % 300 == 100", "value": -8}, "value": -5}, "title": "Number of trials"}}, "y": {"field": "sp", "type": "quantitative", "scale": {"domain": [0,0.8], "nice": false, "zero": false}, "axis": {"orient": "left", "values": [0,0.2,0.4,0.6,0.8], "format": ".2f", "title": null}}}},
  {"transform": [{"filter": "datum.p=='s' && datum.s=='sd'"}], "mark": {"type": "point", "shape": "square", "filled": true, "fill": "white", "stroke": "black", "strokeWidth": 1, "size": 80, "opacity": 1}, "encoding": {"x": {"field": "x", "type": "quantitative", "scale": {"domain": [50,1050], "nice": false, "zero": false}, "axis": {"orient": "bottom", "values": [100,200,300,400,500,600,700,800,900,1000], "format": "d", "labelExpr": "datum.value % 300 == 100 ? datum.label : ''", "tickSize": {"condition": {"test": "datum.value % 300 == 100", "value": -8}, "value": -5}, "title": "Number of trials"}}, "y": {"field": "sp", "type": "quantitative", "scale": {"domain": [0,0.8], "nice": false, "zero": false}, "axis": {"orient": "left", "values": [0,0.2,0.4,0.6,0.8], "format": ".2f", "title": null}}}},
  {"transform": [{"filter": "datum.p=='s' && datum.s=='sd'"}, {"fold": ["c5","c6","c7","c8","c9","c10"], "as": ["k","v"]}], "mark": {"type": "line", "strokeWidth": 1, "color": "black"}, "encoding": {"x": {"field": "x", "type": "quantitative", "scale": {"domain": [50,1050], "nice": false, "zero": false}, "axis": {"orient": "bottom", "values": [100,200,300,400,500,600,700,800,900,1000], "format": "d", "labelExpr": "datum.value % 300 == 100 ? datum.label : ''", "tickSize": {"condition": {"test": "datum.value % 300 == 100", "value": -8}, "value": -5}, "title": "Number of trials"}}, "y": {"field": "v", "type": "quantitative", "scale": {"domain": [0,0.8], "nice": false, "zero": false}, "axis": {"orient": "left", "values": [0,0.2,0.4,0.6,0.8], "format": ".2f", "title": null}}, "detail": {"field": "k"}}}
 ]},
 {"transform": [{"filter": "datum.p=='s' && datum.s=='sd'"}, {"fold": ["c5","c6","c7","c8","c9","c10"], "as": ["k","v"]}], "mark": {"type": "point", "shape": "circle", "filled": true, "stroke": "black", "strokeWidth": 1, "size": 78, "opacity": 1}, "encoding": {"x": {"field": "x", "type": "quantitative", "scale": {"domain": [50,1050], "nice": false, "zero": false}, "axis": {"orient": "bottom", "values": [100,200,300,400,500,600,700,800,900,1000], "format": "d", "labelExpr": "datum.value % 300 == 100 ? datum.label : ''", "tickSize": {"condition": {"test": "datum.value % 300 == 100", "value": -8}, "value": -5}, "title": "Number of trials"}}, "y": {"field": "v", "type": "quantitative", "scale": {"domain": [0,0.8], "nice": false, "zero": false}, "axis": {"orient": "right", "labels": false, "title": null, "values": [0,0.2,0.4,0.6,0.8]}},
   "fill": {"field": "k", "type": "nominal", "scale": {"domain": ["c5","c6","c7","c8","c9","c10"], "range": ["#000000","#444444","#777777","#9a9a9a","#c8c8c8","#ffffff"]}, "legend": null}}}
]}
],
"config": {
 "font": "Liberation Sans",
 "background": "white",
 "view": {"stroke": "black", "strokeWidth": 1.5},
 "axis": {"grid": false, "domain": false, "ticks": true, "tickSize": -8, "tickColor": "black", "tickWidth": 1.3, "labelFont": "Liberation Sans", "labelFontSize": 18.5, "labelColor": "black", "labelFlush": false, "labelOverlap": false, "labelPadding": 13, "titleFont": "Liberation Sans", "titleFontSize": 21, "titleFontWeight": "normal", "titleColor": "black"},
 "axisY": {"titlePadding": 10},
 "axisX": {"titlePadding": 1},
 "title": {"font": "Liberation Sans", "fontSize": 24, "fontWeight": "normal", "color": "black", "anchor": "middle", "baseline": "alphabetic", "frame": "group", "offset": -3},
 "legend": {"titleFont": "Liberation Sans", "titleFontSize": 18.5, "titleFontWeight": "normal", "titleColor": "black", "padding": 0, "titleLimit": 400}
}
}
